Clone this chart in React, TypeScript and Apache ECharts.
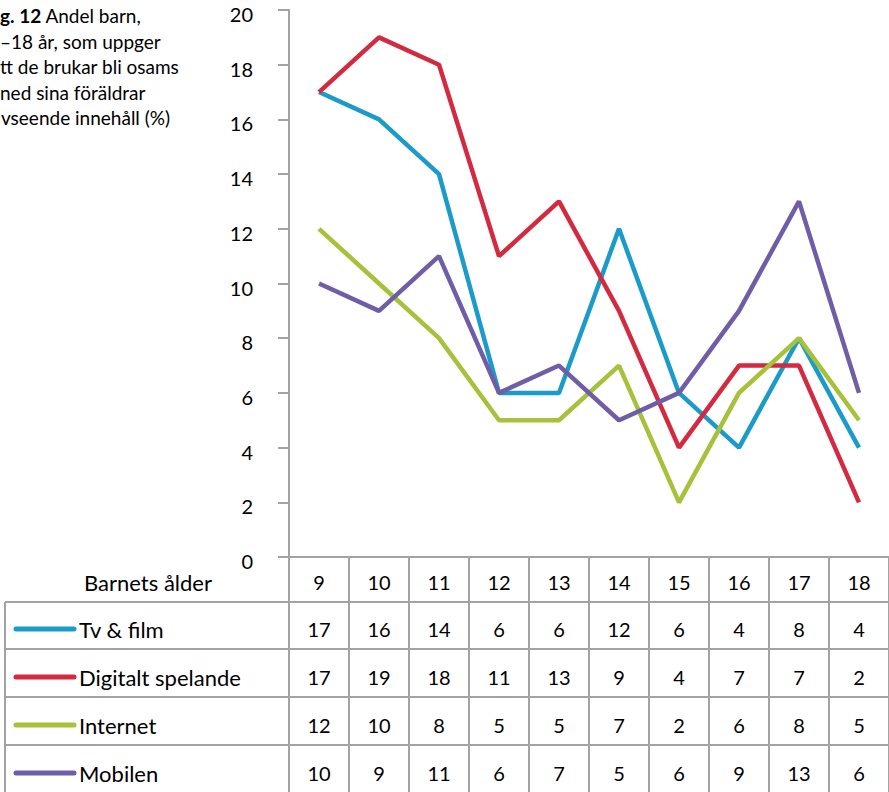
import React, { useEffect, useRef } from "react";
import * as echarts from "echarts";

const categories = ["9", "10", "11", "12", "13", "14", "15", "16", "17", "18"];
const yTickLabels = [0, 2, 4, 6, 8, 10, 12, 14, 16, 18, 20];
const seriesNames = ["Tv & film", "Digitalt spelande", "Internet", "Mobilen"];
const tvFilm = [17, 16, 14, 6, 6, 12, 6, 4, 8, 4];
const digitaltSpelande = [17, 19, 18, 11, 13, 9, 4, 7, 7, 2];
const internet = [12, 10, 8, 5, 5, 7, 2, 6, 8, 5];
const mobilen = [10, 9, 11, 6, 7, 5, 6, 9, 13, 6];
const colors = ["#1a9bc9", "#d42a40", "#a6c13a", "#6f5da7"];
// caption as visible in the (cropped) reference
const captionBold = "g. 12";
const captionLines = [
  "Andel barn,",
  "–18 år, som uppger",
  "tt de brukar bli osams",
  "ned sina föräldrar",
  "vseende innehåll (%)",
];
const xTitle = "Barnets ålder";

const FONT = "Lato, 'Noto Sans', sans-serif";
const GRID = "#a3a3a3";

export default function App() {
  const ref = useRef<HTMLDivElement>(null);
  useEffect(() => {
    if (!ref.current) return;
    const chart = echarts.init(ref.current, undefined, { renderer: "svg" });
    const allData = [tvFilm, digitaltSpelande, internet, mobilen];
    chart.setOption({
      animation: false,
      grid: { left: 289, top: 10, width: 600, height: 547, outerBoundsMode: "none", containLabel: false },
      xAxis: {
        type: "category",
        data: categories,
        boundaryGap: true,
        axisLine: { lineStyle: { color: GRID, width: 2 } },
        axisTick: { show: true, length: 240, interval: 0, lineStyle: { color: GRID, width: 2 } },
        axisLabel: { fontSize: 20, margin: 15, color: "#000", fontFamily: FONT, interval: 0 },
      },
      yAxis: {
        type: "value",
        min: 0,
        max: 20,
        interval: 2,
        axisLine: { show: true, lineStyle: { color: GRID, width: 2 } },
        axisTick: { show: true, length: 11, lineStyle: { color: GRID, width: 2 } },
        splitLine: { show: false },
        axisLabel: { show: false },
      },
      series: allData.map((d, i) => ({
        type: "line",
        name: seriesNames[i],
        data: d,
        symbol: "none",
        lineStyle: { color: colors[i], width: 4.5 },
        itemStyle: { color: colors[i] },
      })),
    });

    const rowLines = [602, 649, 697, 745];
    const rowCenters = [629, 677, 725, 773];
    const graphics: any[] = [];
    // y tick labels, placed through the y scale
    yTickLabels.forEach((v) => {
      const py = chart.convertToPixel({ yAxisIndex: 0 }, v) as number;
      graphics.push({
        type: "text",
        x: 253,
        y: py + 4,
        style: { text: String(v), fontSize: 20, fontFamily: FONT, fill: "#000", textAlign: "right", textVerticalAlign: "middle" },
      });
    });
    rowLines.forEach((y) =>
      graphics.push({
        type: "line",
        shape: { x1: 5, y1: y, x2: 889, y2: y },
        style: { stroke: GRID, lineWidth: 2 },
      })
    );
    graphics.push({
      type: "line",
      shape: { x1: 5, y1: 602, x2: 5, y2: 792 },
      style: { stroke: GRID, lineWidth: 2 },
    });
    graphics.push({
      type: "text",
      x: 148,
      y: 582,
      style: { text: xTitle, fontSize: 22, fontFamily: FONT, fill: "#000", textAlign: "center", textVerticalAlign: "middle" },
    });
    allData.forEach((d, i) => {
      const cy = rowCenters[i];
      graphics.push({
        type: "line",
        shape: { x1: 16, y1: cy, x2: 74, y2: cy },
        style: { stroke: colors[i], lineWidth: 5, lineCap: "round" },
      });
      graphics.push({
        type: "text",
        x: 79,
        y: cy,
        style: { text: seriesNames[i], fontSize: 22, fontFamily: FONT, fill: "#000", textAlign: "left", textVerticalAlign: "middle" },
      });
      d.forEach((v, j) => {
        const px = chart.convertToPixel({ xAxisIndex: 0 }, categories[j]) as number;
        graphics.push({
          type: "text",
          x: px,
          y: cy,
          style: { text: String(v), fontSize: 20, fontFamily: FONT, fill: "#000", textAlign: "center", textVerticalAlign: "middle" },
        });
      });
    });
    // caption
    graphics.push({
      type: "text",
      x: 0,
      y: 15,
      style: {
        text: "{b|" + captionBold + "} " + captionLines[0],
        rich: { b: { fontWeight: "bold", fontSize: 19, fontFamily: FONT, fill: "#000" } },
        fontSize: 19,
        fontFamily: FONT,
        fill: "#000",
        textVerticalAlign: "middle",
      },
    });
    captionLines.slice(1).forEach((t, k) =>
      graphics.push({
        type: "text",
        x: k === 3 ? 1 : 0,
        y: 41 + k * 25.5,
        style: { text: t, fontSize: 19, fontFamily: FONT, fill: "#000", textVerticalAlign: "middle" },
      })
    );
    chart.setOption({ graphic: graphics });
    return () => chart.dispose();
  }, []);
  return (
    <div
      ref={ref}
      style={{ position: "fixed", left: 0, top: 0, width: 889, height: 792, background: "#fff" }}
    />
  );
}
